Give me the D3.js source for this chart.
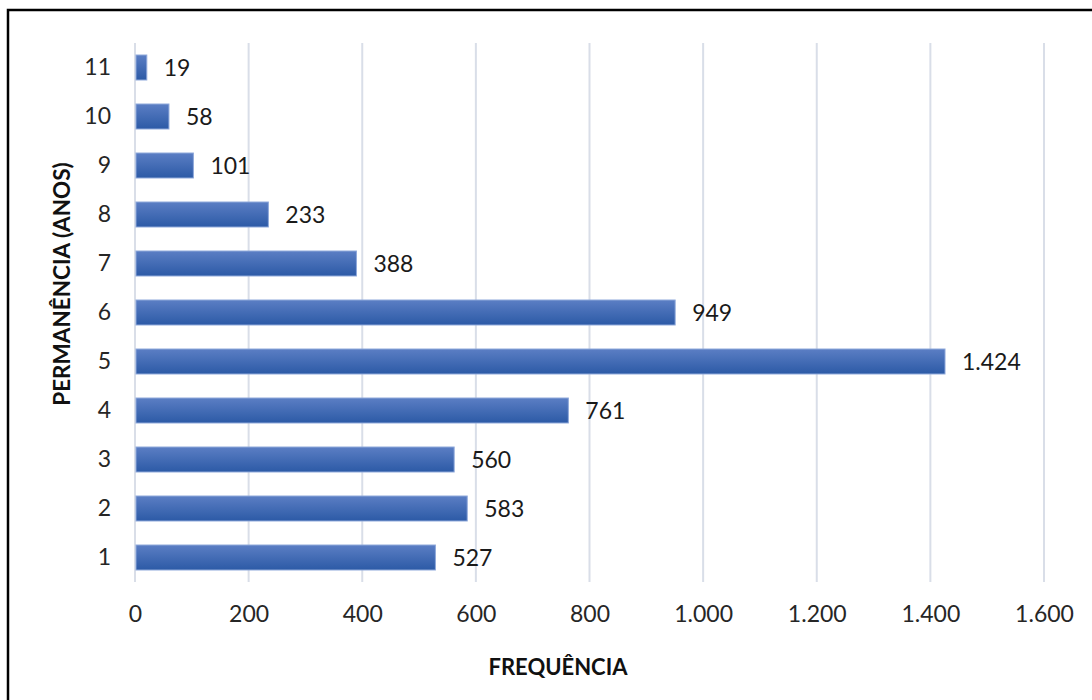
<!DOCTYPE html>
<html>
<head>
<meta charset="utf-8">
<script src="https://cdn.jsdelivr.net/npm/d3@7"></script>
<style>
  body { margin: 0; background: #fff; }
  text { font-family: Lato, "Open Sans", sans-serif; }
</style>
</head>
<body>
<div id="chart"></div>
<script>
// categories and values
const categories = ["1", "2", "3", "4", "5", "6", "7", "8", "9", "10", "11"]
const frequencies = [527, 583, 560, 761, 1424, 949, 388, 233, 101, 58, 19]
const xTicks = [0, 200, 400, 600, 800, 1000, 1200, 1400, 1600]

const W = 1092, H = 700
let margin = { top: 43, left: 135, right: 48, bottom: 118 }
let width = 1044 - margin.left
let height = 582 - margin.top

const ptBR = d3.formatLocale({ decimal: ",", thousands: ".", grouping: [3], currency: ["R$", ""] })
const fmt = ptBR.format(",d")

let root = d3.select("#chart").append("svg")
    .attr("width", W)
    .attr("height", H)

// frame (runs off the right and bottom of the picture)
root.append("rect")
    .attr("x", 8).attr("y", 10)
    .attr("width", W + 20).attr("height", H + 20)
    .attr("fill", "none")
    .attr("stroke", "#000")
    .attr("stroke-width", 2.5)

let defs = root.append("defs")
let grad = defs.append("linearGradient")
    .attr("id", "barGrad")
    .attr("x1", 0).attr("y1", 0).attr("x2", 0).attr("y2", 1)
grad.append("stop").attr("offset", "0%").attr("stop-color", "#5b7ec4")
grad.append("stop").attr("offset", "100%").attr("stop-color", "#2c5aa6")

let svg = root.append("g")
    .attr("transform", "translate(" + margin.left + "," + margin.top + ")")

let x = d3.scaleLinear()
    .domain([0, 1600])
    .range([0, width])

let y = d3.scaleBand()
    .domain(categories.slice().reverse())
    .range([0, height])
    .paddingInner(0.49)
    .paddingOuter(0.245)

// vertical gridlines
svg.append("g")
    .selectAll("line")
    .data(xTicks)
    .enter()
    .append("line")
    .attr("x1", d => x(d)).attr("x2", d => x(d))
    .attr("y1", 0).attr("y2", height)
    .attr("stroke", "#d9dee8")
    .attr("stroke-width", 2)

// x axis labels
let xAxis = svg.append("g")
    .attr("transform", "translate(0," + height + ")")
    .call(d3.axisBottom(x).tickValues(xTicks).tickFormat(fmt).tickSize(0).tickPadding(24))
xAxis.select(".domain").remove()
xAxis.selectAll("text")
    .attr("font-size", 23)
    .attr("fill", "#262626")
    .style("font-family", "Lato, sans-serif")

// y axis labels
let yAxis = svg.append("g")
    .call(d3.axisLeft(y).tickSize(0).tickPadding(24))
yAxis.select(".domain").remove()
yAxis.selectAll("text")
    .attr("font-size", 23)
    .attr("fill", "#262626")
    .style("font-family", "Lato, sans-serif")

// bars
svg.selectAll(".bar")
    .data(frequencies)
    .enter()
    .append("rect")
    .attr("class", "bar")
    .attr("x", x(0) + 1)
    .attr("y", (d, i) => y(categories[i]))
    .attr("width", d => x(d) - x(0))
    .attr("height", y.bandwidth())
    .attr("fill", "url(#barGrad)")
    .attr("stroke", "#8ea8da")
    .attr("stroke-width", 1)

// value labels
svg.selectAll(".val")
    .data(frequencies)
    .enter()
    .append("text")
    .attr("class", "val")
    .attr("x", d => x(d) + 18)
    .attr("y", (d, i) => y(categories[i]) + y.bandwidth() / 2)
    .attr("dy", "0.36em")
    .attr("font-size", 23)
    .attr("fill", "#1a1a1a")
    .text(d => fmt(d))

// axis titles
root.append("text")
    .attr("x", 558).attr("y", 675)
    .attr("text-anchor", "middle")
    .attr("font-size", 22)
    .attr("font-weight", "bold")
    .attr("fill", "#111")
    .text("FREQUÊNCIA")

root.append("text")
    .attr("transform", "translate(70,284) rotate(-90)")
    .attr("text-anchor", "middle")
    .attr("font-size", 22.5)
    .attr("font-weight", "bold")
    .attr("fill", "#111")
    .text("PERMANÊNCIA (ANOS)")
</script>
</body>
</html>
